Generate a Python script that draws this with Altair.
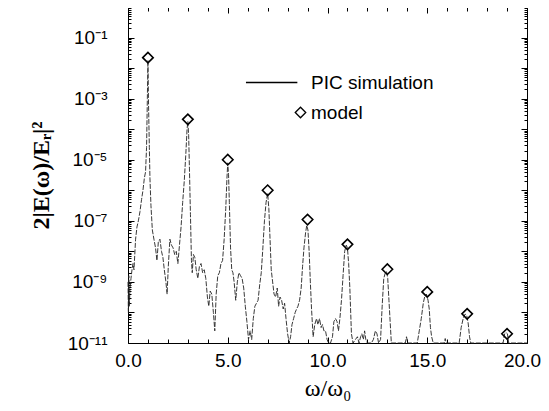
import altair as alt
import pandas as pd

# ---------------- data ----------------
omega = [
    0.00, 0.02, 0.04, 0.07, 0.10, 0.15, 0.20, 0.25, 0.30, 0.38, 0.45, 0.52, 0.60, 0.68, 0.75, 0.82,
    0.88, 0.93, 0.97, 1.00, 1.03, 1.07, 1.10, 1.15, 1.22, 1.30, 1.38, 1.45, 1.52, 1.60, 1.68, 1.75,
    1.82, 1.90, 1.96, 2.02, 2.10, 2.18, 2.26, 2.34, 2.42, 2.50, 2.58, 2.66, 2.74, 2.82, 2.90, 2.96,
    3.00, 3.04, 3.08, 3.13, 3.18, 3.22, 3.28, 3.35, 3.42, 3.50, 3.58, 3.66, 3.74, 3.82, 3.90, 3.98,
    4.05, 4.12, 4.20, 4.28, 4.35, 4.42, 4.50, 4.58, 4.66, 4.74, 4.82, 4.90, 4.96, 5.00, 5.04, 5.08,
    5.14, 5.20, 5.26, 5.32, 5.40, 5.48, 5.56, 5.64, 5.72, 5.80, 5.88, 5.96, 6.04, 6.12, 6.20, 6.28,
    6.36, 6.44, 6.52, 6.60, 6.68, 6.76, 6.84, 6.92, 7.00, 7.06, 7.12, 7.18, 7.25, 7.32, 7.40, 7.48,
    7.55, 7.62, 7.70, 7.78, 7.85, 7.92, 8.00, 8.08, 8.15, 8.22, 8.30, 8.38, 8.45, 8.52, 8.60, 8.68,
    8.75, 8.82, 8.90, 8.96, 9.02, 9.08, 9.14, 9.20, 9.28, 9.36, 9.45, 9.52, 9.60, 9.68, 9.75, 9.82,
    9.90, 9.98, 10.05, 10.15, 10.25, 10.32, 10.40, 10.48, 10.55, 10.62, 10.70, 10.78, 10.86, 10.94, 11.00, 11.06,
    11.12, 11.20, 11.28, 11.40, 11.50, 11.58, 11.66, 11.72, 11.80, 11.86, 11.92, 12.00, 12.20, 12.30, 12.40, 12.48,
    12.56, 12.66, 12.74, 12.82, 12.90, 12.96, 13.02, 13.08, 13.14, 13.20, 13.90, 13.96, 14.02, 14.50, 14.60, 14.70,
    14.80, 14.88, 14.96, 15.04, 15.10, 15.16, 15.22, 15.30, 15.85, 15.90, 15.95, 16.60, 16.70, 16.80, 16.90, 16.98,
    17.05, 17.12, 17.18, 18.80, 18.88, 18.95, 19.02, 19.08, 20.00,
]
pic_spectrum = [
    1.0e-9, 1.0e-10, 1.6e-9, 1.6e-10, 6.3e-10, 1.3e-9, 2.5e-9, 4.0e-9, 2.5e-9, 2.5e-8, 6.3e-8, 1.0e-7, 2.0e-7, 5.0e-7, 1.0e-6, 2.5e-6,
    4.0e-6, 2.5e-5, 1.0e-3, 1.8e-2, 6.3e-4, 2.5e-5, 2.5e-6, 3.2e-7, 5.0e-8, 2.5e-8, 1.3e-8, 5.0e-9, 2.0e-8, 2.5e-8, 1.0e-8, 6.3e-9,
    2.5e-9, 1.0e-9, 4.0e-10, 3.2e-9, 2.5e-8, 1.6e-8, 1.3e-8, 7.9e-9, 1.0e-8, 4.0e-9, 1.6e-8, 6.3e-8, 4.0e-7, 2.0e-6, 1.6e-5, 1.0e-4,
    1.8e-4, 6.3e-5, 5.0e-6, 1.6e-7, 5.0e-9, 2.0e-9, 7.9e-9, 6.3e-9, 2.5e-9, 1.3e-9, 3.2e-9, 4.0e-9, 2.0e-9, 2.5e-9, 1.3e-9, 3.2e-10,
    1.6e-10, 5.0e-10, 4.0e-10, 1.0e-10, 2.5e-11, 4.0e-10, 1.6e-9, 2.0e-9, 4.0e-9, 5.0e-9, 2.5e-8, 2.5e-7, 2.5e-6, 7.9e-6, 3.2e-6, 4.0e-7,
    1.3e-8, 2.5e-9, 2.0e-9, 1.0e-9, 2.5e-10, 1.0e-9, 2.0e-9, 1.6e-9, 1.3e-9, 6.3e-10, 1.6e-10, 5.0e-11, 1.3e-11, 2.5e-11, 1.3e-11, 6.3e-11,
    1.6e-10, 2.0e-10, 2.5e-10, 7.9e-10, 2.0e-9, 1.3e-8, 1.0e-7, 4.0e-7, 7.9e-7, 2.5e-7, 2.5e-8, 2.5e-9, 1.0e-9, 4.0e-10, 3.2e-10, 6.3e-10,
    1.6e-10, 3.2e-10, 2.5e-10, 1.3e-10, 2.0e-10, 6.3e-11, 2.0e-11, 1.0e-11, 1.6e-11, 4.0e-11, 6.3e-11, 1.0e-10, 1.3e-10, 1.6e-10, 2.5e-10, 6.3e-10,
    3.2e-9, 1.3e-8, 4.0e-8, 7.1e-8, 5.0e-8, 1.0e-8, 1.0e-9, 1.3e-10, 1.6e-11, 4.0e-11, 6.3e-11, 4.0e-11, 6.3e-11, 3.2e-11, 4.0e-11, 2.5e-11,
    2.5e-11, 1.3e-11, 1.0e-11, 1.0e-11, 1.6e-11, 5.0e-11, 6.3e-11, 5.0e-11, 2.5e-11, 6.3e-11, 2.5e-10, 1.6e-9, 1.0e-8, 1.6e-8, 1.3e-8, 4.0e-9,
    6.3e-10, 2.0e-11, 1.0e-11, 1.3e-11, 1.6e-11, 1.0e-11, 1.6e-11, 2.0e-11, 1.3e-11, 2.5e-11, 1.3e-11, 1.0e-11, 1.0e-11, 1.3e-11, 2.5e-11, 2.0e-11,
    1.0e-11, 1.3e-11, 1.6e-10, 1.3e-9, 2.0e-9, 2.2e-9, 1.3e-9, 2.5e-10, 5.0e-11, 1.0e-11, 1.0e-11, 1.6e-11, 1.0e-11, 1.0e-11, 2.5e-11, 6.3e-11,
    2.0e-10, 3.5e-10, 4.0e-10, 2.5e-10, 1.3e-10, 3.2e-11, 1.6e-11, 1.0e-11, 1.0e-11, 1.4e-11, 1.0e-11, 1.0e-11, 3.2e-11, 6.3e-11, 8.9e-11, 7.9e-11,
    4.5e-11, 1.6e-11, 1.0e-11, 1.0e-11, 2.0e-11, 2.2e-11, 2.0e-11, 1.0e-11, 1.0e-11,
]
harmonics = [1, 3, 5, 7, 9, 11, 13, 15, 17, 19]
model = [2.2e-2, 2.1e-4, 1.0e-5, 1.0e-6, 1.1e-7, 1.7e-8, 2.6e-9, 4.7e-10, 9.0e-11, 2.0e-11]

series_names = ["PIC simulation", "model"]
x_label_values = [0, 5, 10, 15, 20]
y_label_values = [1e-1, 1e-3, 1e-5, 1e-7, 1e-9, 1e-11]
y_label_texts = ["10⁻¹", "10⁻³", "10⁻⁵", "10⁻⁷", "10⁻⁹", "10⁻¹¹"]
x_minor_ticks = list(range(0, 21))
y_minor_ticks = [k * 10.0 ** n for n in range(-11, 0) for k in range(1, 10)] + [1.0]

# ---------------- layout ----------------
W, H = 399, 336
SANS = "Liberation Sans"
SERIF = "Liberation Serif"

spec_df = pd.DataFrame({"w": omega, "v": pic_spectrum})
model_df = pd.DataFrame({"w": harmonics, "v": model, "series": "model"})

x_scale = alt.Scale(domain=[0, 20], nice=False, zero=False)
y_scale = alt.Scale(type="log", domain=[1e-11, 1], nice=False)

label_expr = " : ".join(
    f"abs(datum.value - {v}) < {v} * 0.01 ? '{t}'" for v, t in zip(y_label_values, y_label_texts)
) + " : ''"

log_major = "abs(log(datum.value)/LN10 - round(log(datum.value)/LN10)) < 0.001"
x_major = "datum.value % 5 === 0"

line = alt.Chart(spec_df).mark_line(color="#222222", strokeWidth=0.9, strokeDash=[5, 1.5]).encode(
    x=alt.X("w:Q", scale=x_scale, axis=alt.Axis(
        orient="bottom", values=x_label_values, format=".1f", ticks=False, domain=False, grid=False,
        labelFont=SANS, labelFontSize=19, labelPadding=8, labelColor="black", labelFlush=False,
        labelOffset={"condition": {"test": "datum.value >= 20", "value": -5}, "value": 0},
        title="ω/ω₀", titleFont=SERIF, titleFontSize=24, titleFontWeight="normal", titleColor="black",
        titleX=W / 2, titleY=45, titleBaseline="middle")),
    y=alt.Y("v:Q", scale=y_scale, axis=alt.Axis(
        orient="left", values=y_label_values, labelExpr=label_expr, ticks=False, domain=False, grid=False,
        labelFont=SANS, labelFontSize=19, labelPadding=21, labelColor="black", labelFlush=False,
        title="2|E(ω)/Eᵣ|²", titleFont=SERIF, titleFontSize=24, titleFontWeight="bold", titleColor="black",
        titleX=-87, titleY=H / 2, titleBaseline="middle", titleAngle=270)),
)

line_symbol = "M-10.4,0L-0.6,0"
points = alt.Chart(model_df).mark_point(filled=False, strokeWidth=1.6, size=110, color="black", opacity=1).encode(
    x=alt.X("w:Q", scale=x_scale, axis=alt.Axis(
        orient="top", offset=-H, values=x_minor_ticks, labels=False, domain=False, grid=False,
        tickColor="black", tickSize={"condition": {"test": x_major, "value": 6}, "value": 4}, title=None)),
    y=alt.Y("v:Q", scale=y_scale, axis=alt.Axis(
        orient="right", offset=-W, values=y_minor_ticks, labels=False, domain=False, grid=False,
        tickColor="black", tickSize={"condition": {"test": log_major, "value": 6}, "value": 3}, title=None)),
    shape=alt.Shape("series:N", scale=alt.Scale(domain=series_names, range=[line_symbol, "diamond"]),
                    legend=alt.Legend(title=None, orient="none", legendX=163, legendY=66, symbolSize=110,
                                      symbolStrokeColor="black", symbolStrokeWidth=1.3, symbolFillColor="transparent",
                                      labelFont=SANS, labelFontSize=19, labelColor="black", labelOffset=1,
                                      rowPadding=10, padding=0)),
)

frame_ticks = alt.Chart(model_df).mark_point(opacity=0).encode(
    x=alt.X("w:Q", scale=x_scale, axis=alt.Axis(
        orient="bottom", offset=-H, values=x_minor_ticks, labels=False, domain=False, grid=False,
        tickColor="black", tickSize={"condition": {"test": x_major, "value": 6}, "value": 4}, title=None)),
    y=alt.Y("v:Q", scale=y_scale, axis=alt.Axis(
        orient="left", offset=-W, values=y_minor_ticks, labels=False, domain=False, grid=False,
        tickColor="black", tickSize={"condition": {"test": log_major, "value": 6}, "value": 3}, title=None)),
)

chart = alt.layer(line, points, frame_ticks).resolve_axis(x="independent", y="independent").properties(
    width=W, height=H,
    autosize=alt.AutoSizeParams(type="none"),
    padding={"left": 120, "top": -1, "right": 14, "bottom": 60},
    background="white",
).configure_view(stroke="black", strokeWidth=1)

chart.save("out.html", embed_options={"renderer": "svg", "actions": False})
